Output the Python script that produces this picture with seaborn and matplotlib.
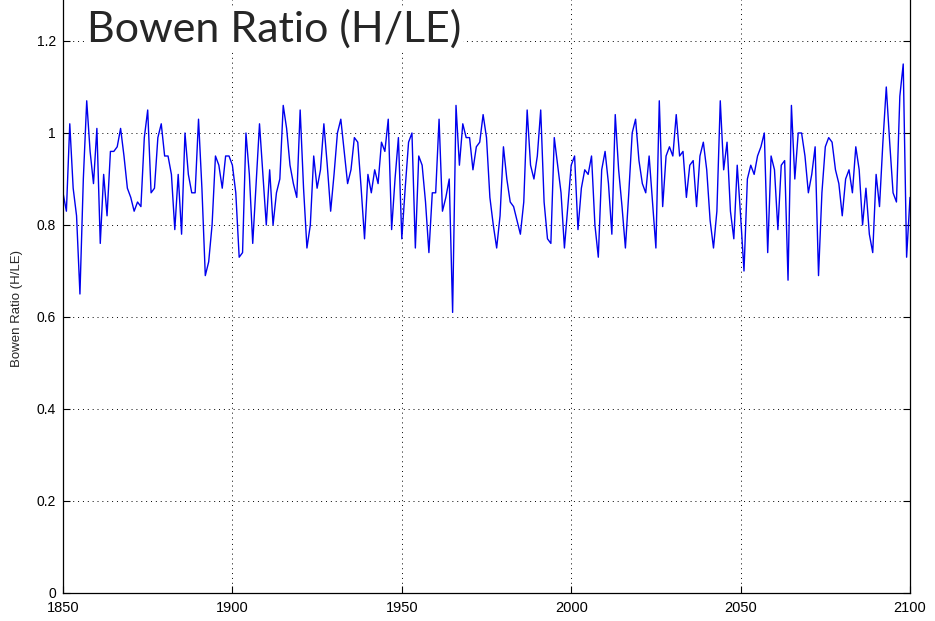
import numpy as np
import pandas as pd
import matplotlib
matplotlib.use("Agg")
import matplotlib.pyplot as plt
import seaborn as sns

# annual Bowen ratio values, 1850-2100
years = list(range(1850, 2101))
bowen = [
    0.87, 0.83, 1.02, 0.88, 0.82, 0.65, 0.90, 1.07, 0.96, 0.89,
    1.01, 0.76, 0.91, 0.82, 0.96, 0.96, 0.97, 1.01, 0.95, 0.88,
    0.86, 0.83, 0.85, 0.84, 0.99, 1.05, 0.87, 0.88, 0.99, 1.02,
    0.95, 0.95, 0.91, 0.79, 0.91, 0.78, 1.00, 0.91, 0.87, 0.87,
    1.03, 0.88, 0.69, 0.72, 0.80, 0.95, 0.93, 0.88, 0.95, 0.95,
    0.93, 0.87, 0.73, 0.74, 1.00, 0.91, 0.76, 0.89, 1.02, 0.91,
    0.80, 0.92, 0.80, 0.87, 0.90, 1.06, 1.01, 0.93, 0.89, 0.86,
    1.05, 0.88, 0.75, 0.80, 0.95, 0.88, 0.92, 1.02, 0.93, 0.83,
    0.91, 1.00, 1.03, 0.96, 0.89, 0.92, 0.99, 0.98, 0.88, 0.77,
    0.91, 0.87, 0.92, 0.89, 0.98, 0.96, 1.03, 0.79, 0.90, 0.99,
    0.77, 0.88, 0.98, 1.00, 0.75, 0.95, 0.93, 0.85, 0.74, 0.87,
    0.87, 1.03, 0.83, 0.86, 0.90, 0.61, 1.06, 0.93, 1.02, 0.99,
    0.99, 0.92, 0.97, 0.98, 1.04, 0.99, 0.86, 0.80, 0.75, 0.82,
    0.97, 0.90, 0.85, 0.84, 0.81, 0.78, 0.85, 1.05, 0.93, 0.90,
    0.95, 1.05, 0.85, 0.77, 0.76, 0.99, 0.93, 0.87, 0.75, 0.84,
    0.93, 0.95, 0.79, 0.88, 0.92, 0.91, 0.95, 0.80, 0.73, 0.92,
    0.96, 0.89, 0.78, 1.04, 0.92, 0.84, 0.75, 0.87, 1.00, 1.03,
    0.94, 0.89, 0.87, 0.95, 0.85, 0.75, 1.07, 0.84, 0.95, 0.97,
    0.95, 1.04, 0.95, 0.96, 0.86, 0.93, 0.94, 0.84, 0.95, 0.98,
    0.92, 0.81, 0.75, 0.83, 1.07, 0.92, 0.98, 0.83, 0.77, 0.93,
    0.82, 0.70, 0.90, 0.93, 0.91, 0.95, 0.97, 1.00, 0.74, 0.95,
    0.92, 0.79, 0.93, 0.94, 0.68, 1.06, 0.90, 1.00, 1.00, 0.95,
    0.87, 0.91, 0.97, 0.69, 0.87, 0.97, 0.99, 0.98, 0.92, 0.89,
    0.82, 0.90, 0.92, 0.87, 0.97, 0.92, 0.80, 0.88, 0.78, 0.74,
    0.91, 0.84, 0.98, 1.10, 0.98, 0.87, 0.85, 1.08, 1.15, 0.73,
    0.86,
]
xticks = [1850, 1900, 1950, 2000, 2050, 2100]
yticks = [0, 0.2, 0.4, 0.6, 0.8, 1, 1.2]
ytick_labels = ["0", "0.2", "0.4", "0.6", "0.8", "1", "1.2"]

df = pd.DataFrame({"year": years, "bowen": bowen})

sns.set_style("ticks")
plt.rcParams["font.family"] = ["Liberation Sans", "DejaVu Sans"]

fig = plt.figure(figsize=(9.35, 6.21), dpi=100)
# axes run past the top of the canvas, like the cropped original
ax = fig.add_axes([63 / 935, 28 / 621, 847 / 935, 644 / 621])

sns.lineplot(data=df, x="year", y="bowen", ax=ax, color="#0000ee", lw=1.0)

ax.set_xlim(1850, 2100)
ax.set_ylim(0, 1.4)
ax.set_xticks(xticks)
ax.set_xticklabels([str(t) for t in xticks], fontsize=10.5)
ax.set_yticks(yticks)
ax.set_yticklabels(ytick_labels, fontsize=10)
ax.set_xlabel("")
ax.set_ylabel("Bowen Ratio (H/LE)", fontsize=9.5)
ax.yaxis.set_label_coords(-0.047, 0.441)
ax.grid(True, linestyle=(0, (1, 4)), color="black", lw=0.7)
ax.tick_params(direction="in", length=5, width=0.8, top=True, right=True,
               colors="black")
ax.tick_params(axis="x", pad=6)
ax.tick_params(axis="y", pad=5)
for sp in ax.spines.values():
    sp.set_linewidth(0.9)
    sp.set_color("black")

fig.text(87 / 935, 1 - 42 / 621, "Bowen Ratio (H/LE)", fontsize=31,
         family=["Lato", "DejaVu Sans"], va="baseline", ha="left",
         bbox=dict(facecolor="white", edgecolor="none", pad=1))

fig.savefig("out.png", dpi=100)
